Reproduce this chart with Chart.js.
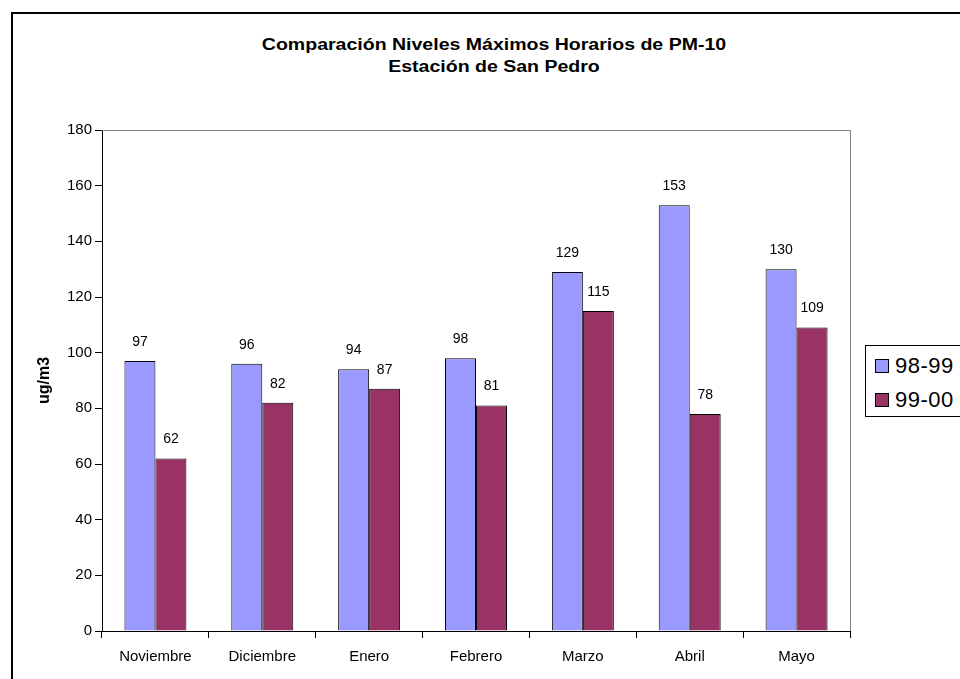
<!DOCTYPE html>
<html>
<head>
<meta charset="utf-8">
<script src="https://cdn.jsdelivr.net/npm/chart.js@4.4.0/dist/chart.umd.min.js"></script>
<style>
  body { margin: 0; width: 960px; height: 679px; overflow: hidden; background: #fff; font-family: "Liberation Sans", Arial, sans-serif; }
  #frame { position: absolute; left: 11px; top: 12px; width: 1000px; height: 700px; border-left: 2px solid #000; border-top: 2px solid #000; }
  #title { position: absolute; left: 0; top: 34px; width: 988px; text-align: center; font-weight: bold; font-size: 16px; line-height: 22px; color: #000; transform: scaleX(1.22); transform-origin: 494px 0; }
  #legend { position: absolute; left: 865px; top: 345px; width: 120px; height: 70px; border: 1px solid #000; background: #fff; font-size: 22px; }
  #legend div { position: absolute; left: 9px; height: 24px; line-height: 24px; white-space: nowrap; letter-spacing: 0.5px; }
  #legend span { display: inline-block; width: 12px; height: 12px; border: 1px solid #000; margin-right: 6px; vertical-align: 0px; }
  canvas { position: absolute; left: 0; top: 0; }
</style>
</head>
<body>
<div id="frame"></div>
<div id="title">Comparación Niveles Máximos Horarios de PM-10<br>Estación de San Pedro</div>
<canvas id="c" width="960" height="679"></canvas>
<div id="legend"></div>
<script>
const months = ['Noviembre', 'Diciembre', 'Enero', 'Febrero', 'Marzo', 'Abril', 'Mayo'];
const season1 = [97, 96, 94, 98, 129, 153, 130];
const season2 = [62, 82, 87, 81, 115, 78, 109];
const seriesNames = ['98-99', '99-00'];
const colors = ['#9999FF', '#993366'];

const fontFamily = '"Liberation Sans", Arial, sans-serif';

const valueLabels = {
    id: 'valueLabels',
    afterDatasetsDraw(chart) {
        const ctx = chart.ctx;
        ctx.save();
        ctx.font = '14px ' + fontFamily;
        ctx.fillStyle = '#000';
        ctx.textAlign = 'center';
        ctx.textBaseline = 'middle';
        chart.data.datasets.forEach((ds, i) => {
            chart.getDatasetMeta(i).data.forEach((bar, j) => {
                ctx.fillText(ds.data[j], bar.x, bar.y - 19);
            });
        });
        ctx.restore();
    }
};

const plotBorder = {
    id: 'plotBorder',
    afterDraw(chart) {
        const a = chart.chartArea;
        const ctx = chart.ctx;
        ctx.save();
        ctx.strokeStyle = '#808080';
        ctx.lineWidth = 1;
        ctx.beginPath();
        ctx.moveTo(a.left, a.top + 0.5);
        ctx.lineTo(a.right + 0.5, a.top + 0.5);
        ctx.lineTo(a.right + 0.5, a.bottom);
        ctx.stroke();
        ctx.restore();
    }
};

const chart = new Chart(document.getElementById('c'), {
    type: 'bar',
    data: {
        labels: months,
        datasets: [
            { label: seriesNames[0], data: season1, backgroundColor: colors[0], borderColor: '#000', borderWidth: 1 },
            { label: seriesNames[1], data: season2, backgroundColor: colors[1], borderColor: '#000', borderWidth: 1 }
        ]
    },
    options: {
        responsive: false,
        animation: false,
        layout: { padding: { left: 32, right: 110, top: 130, bottom: 3 } },
        datasets: { bar: { categoryPercentage: 0.58, barPercentage: 1.0 } },
        plugins: {
            legend: { display: false },
            title: { display: false },
            tooltip: { enabled: false }
        },
        scales: {
            x: {
                border: { color: '#000', width: 1 },
                grid: { drawOnChartArea: false, drawTicks: true, tickLength: 7, color: '#000', offset: true },
                ticks: { color: '#000', font: { family: fontFamily, size: 15 }, padding: 10, maxRotation: 0 },
                afterFit: s => { s.height = 45; }
            },
            y: {
                min: 0,
                max: 180,
                border: { color: '#000', width: 1 },
                grid: { drawOnChartArea: false, drawTicks: true, tickLength: 7, color: '#000' },
                ticks: { stepSize: 20, color: '#000', font: { family: fontFamily, size: 15 }, padding: 3 },
                title: { display: true, text: 'ug/m3', color: '#000', font: { family: fontFamily, size: 16, weight: 'bold' }, padding: { top: 3, bottom: 0 } },
                afterFit: s => { s.width = 70; }
            }
        }
    },
    plugins: [valueLabels, plotBorder]
});

const legend = document.getElementById('legend');
chart.data.datasets.forEach((ds, i) => {
    const item = document.createElement('div');
    item.style.top = (8 + i * 34) + 'px';
    item.innerHTML = '<span style="background:' + ds.backgroundColor + '"></span>' + ds.label;
    legend.appendChild(item);
});
</script>
</body>
</html>
